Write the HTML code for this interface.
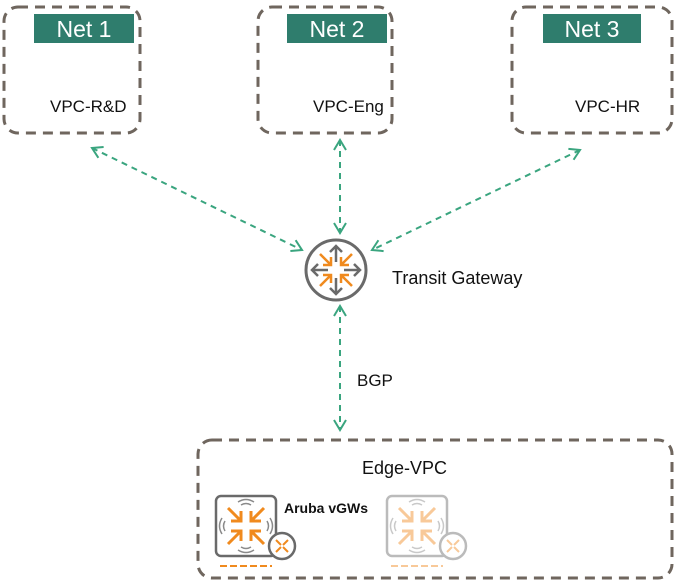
<!DOCTYPE html>
<html><head><style>
body{margin:0;background:#fff;}
svg{display:block;font-family:"Liberation Sans",Arial,sans-serif;}
</style></head><body>
<svg width="678" height="584" viewBox="0 0 678 584" xmlns="http://www.w3.org/2000/svg">
<defs>
<marker id="ah" markerWidth="14" markerHeight="14" refX="11" refY="7" orient="auto-start-reverse" markerUnits="userSpaceOnUse">
<path d="M1,1 L11,7 L1,13" fill="none" stroke="#3aa57f" stroke-width="2"/>
</marker>
</defs>
<g fill="none" stroke="#6f665e" stroke-width="3" stroke-dasharray="10,7">
<rect x="4" y="7" width="136" height="126" rx="14"/>
<rect x="258" y="7" width="134" height="126" rx="14"/>
<rect x="512" y="7" width="160" height="126" rx="14"/>
<rect x="198" y="440" width="474" height="138" rx="14"/>
</g>
<g fill="#2f7d6d">
<rect x="34" y="14" width="100" height="29"/>
<rect x="287" y="14" width="100" height="29"/>
<rect x="543" y="14" width="98" height="29"/>
</g>
<g fill="#fff" font-size="23" text-anchor="middle">
<text x="84" y="37">Net 1</text>
<text x="337" y="37">Net 2</text>
<text x="592" y="37">Net 3</text>
</g>
<g font-size="17" fill="#111">
<text x="50" y="112">VPC-R&amp;D</text>
<text x="313" y="112">VPC-Eng</text>
<text x="575" y="112">VPC-HR</text>
<text x="392" y="284" font-size="18">Transit Gateway</text>
<text x="357" y="386">BGP</text>
<text x="362" y="474" font-size="18">Edge-VPC</text>
<text x="284" y="513" font-size="14" font-weight="bold">Aruba vGWs</text>
</g>
<g stroke="#3aa57f" stroke-width="2" stroke-dasharray="6,5" fill="none" marker-start="url(#ah)" marker-end="url(#ah)">
<line x1="92" y1="148" x2="302" y2="250"/>
<line x1="340" y1="140" x2="340" y2="233"/>
<line x1="580" y1="150" x2="372" y2="250"/>
<line x1="340" y1="306" x2="340" y2="430"/>
</g>
<!-- router -->
<circle cx="336" cy="270" r="30" fill="#fff" stroke="#6a6a6a" stroke-width="3"/>
<g stroke="#6a6a6a" stroke-width="2.5" fill="none">
<path d="M336,262 V246 M330,252 L336,246 L342,252"/>
<path d="M336,278 V294 M330,288 L336,294 L342,288"/>
<path d="M328,270 H312 M318,264 L312,270 L318,276"/>
<path d="M344,270 H360 M354,264 L360,270 L354,276"/>
</g>
<g stroke="#f08a1e" stroke-width="2.5" fill="none">
<path d="M320,254 L331,265 M331,257 V265 H323"/>
<path d="M352,254 L341,265 M341,257 V265 H349"/>
<path d="M320,286 L331,275 M331,283 V275 H323"/>
<path d="M352,286 L341,275 M341,283 V275 H349"/>
</g>
<!-- devices -->
<g id="dev">
<rect x="216" y="496" width="60" height="60" rx="5" fill="#fff" stroke="#6a6a6a" stroke-width="2.5"/>
<g stroke="#8a8a8a" stroke-width="1.5" fill="none">
<path d="M238,502 Q246,497 254,502 M241,505 Q246,502 251,505"/>
<path d="M238,550 Q246,555 254,550 M241,547 Q246,550 251,547"/>
<path d="M222,518 Q217,526 222,534 M225,521 Q222,526 225,531"/>
<path d="M270,518 Q275,526 270,534 M267,521 Q270,526 267,531"/>
</g>
<g stroke="#f08a1e" stroke-width="3" fill="none">
<path d="M228,508 L241,521 M241,511 V521 H231"/>
<path d="M264,508 L251,521 M251,511 V521 H261"/>
<path d="M228,544 L241,531 M241,541 V531 H231"/>
<path d="M264,544 L251,531 M251,541 V531 H261"/>
</g>
<circle cx="282" cy="546" r="13" fill="#fff" stroke="#6a6a6a" stroke-width="2.5"/>
<g stroke="#f08a1e" stroke-width="2" fill="none"><path d="M276,540 L281,545 M288,552 L283,547 M288,540 L283,545 M276,552 L281,547"/></g>
<path d="M220,566 H272" stroke="#f08a1e" stroke-width="2" stroke-dasharray="7,3"/>
</g>
<use href="#dev" x="171" opacity="0.45"/>
</svg>
</body></html>
